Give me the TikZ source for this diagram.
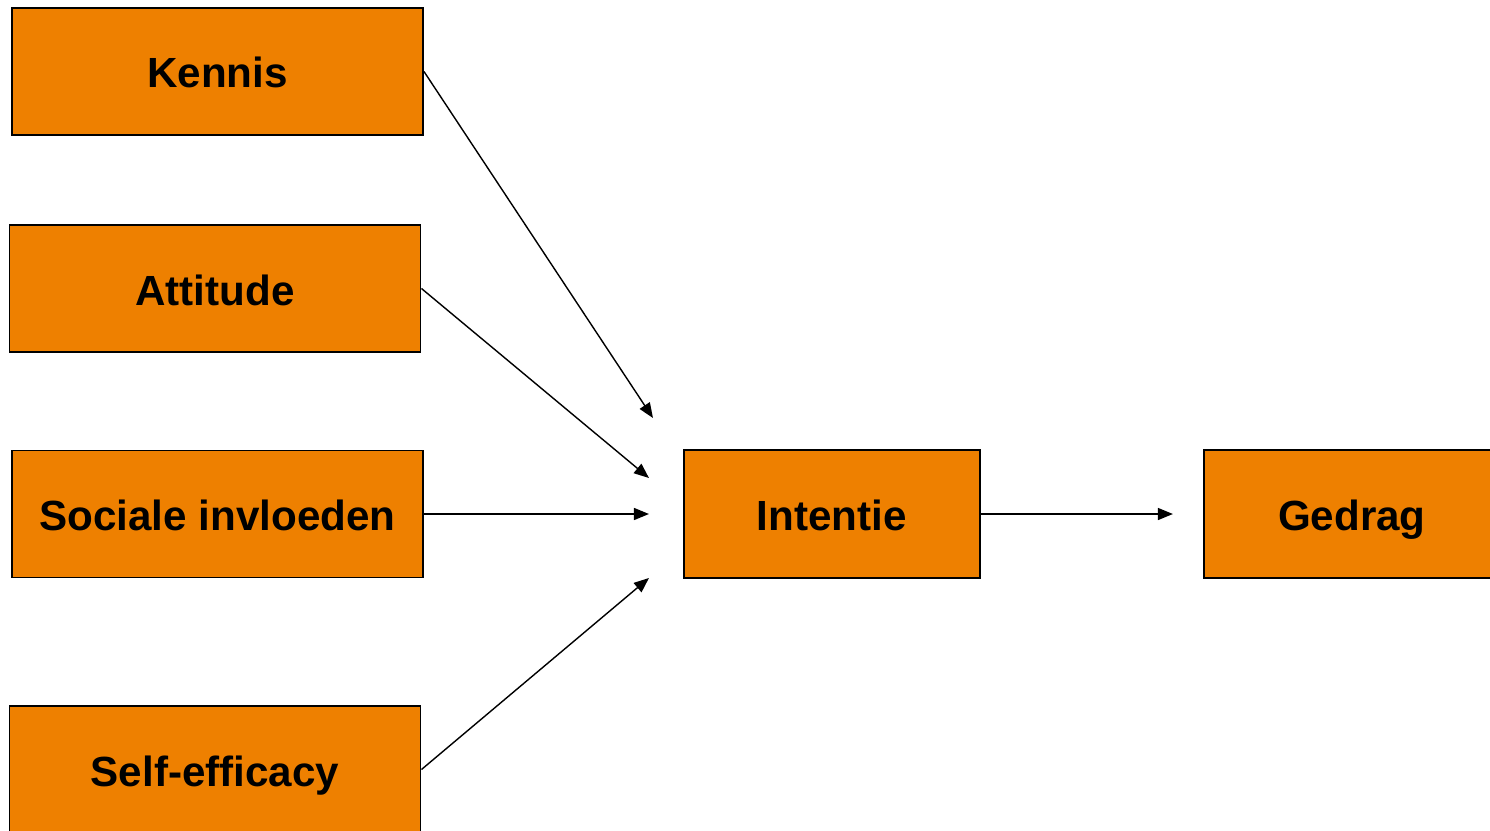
\documentclass[tikz,border=0pt]{standalone}
\usepackage{fontspec}
\setmainfont{Liberation Sans}
\usepackage{tikz}
\usetikzlibrary{positioning, calc, arrows.meta}
\definecolor{boxorange}{RGB}{238,128,0}
\tikzstyle{factor} = [rectangle, minimum width=8.22cm, minimum height=2.54cm, text centered, draw=black, fill=boxorange, line width=1.1pt]
\tikzstyle{outcome} = [rectangle, minimum width=5.92cm, minimum height=2.56cm, text centered, draw=black, fill=boxorange, line width=1.1pt]
\tikzstyle{arrow} = [-{Triangle[length=0.3cm, width=0.24cm]}, line width=0.8pt]
\tikzstyle{every node}=[font=\fontsize{24}{29}\selectfont\bfseries, text height=0.8cm, text depth=0.14cm]

\begin{document}
\begin{tikzpicture}[node distance=4.34cm]
    \useasboundingbox (0,0) rectangle (29.8,-16.6);
    % determinanten links
    \node (kennis) [factor] at (4.35,-1.43) {Kennis};
    \node (attitude) [factor, below of = kennis, xshift = -0.05cm] {Attitude};
    \node (sociaal) [factor, below of = attitude, xshift = 0.05cm, yshift = -0.17cm] {Sociale invloeden};
    \node (self) [factor, below of = sociaal, xshift = -0.05cm, yshift = -0.77cm] {Self-efficacy};
    % intentie en gedrag
    \node (intentie) [outcome, right = 5.18cm of sociaal] {Intentie};
    \node (gedrag) [outcome, right = 4.44cm of intentie] {Gedrag};

    % losse pijlpunten
    \coordinate (kin) at ($(intentie.west) + (-0.6, 1.92)$);
    \coordinate (ain) at ($(intentie.west) + (-0.68, 0.72)$);
    \coordinate (sin) at ($(intentie.west) + (-0.68, 0)$);
    \coordinate (ein) at ($(intentie.west) + (-0.68, -1.28)$);
    \coordinate (gin) at ($(gedrag.west) + (-0.6, 0)$);

    \draw [arrow] (kennis.east) -- (kin);
    \draw [arrow] (attitude.east) -- (ain);
    \draw [arrow] (sociaal.east) -- (sin);
    \draw [arrow] (self.east) -- (ein);
    \draw [arrow] (intentie.east) -- (gin);
\end{tikzpicture}
\end{document}
